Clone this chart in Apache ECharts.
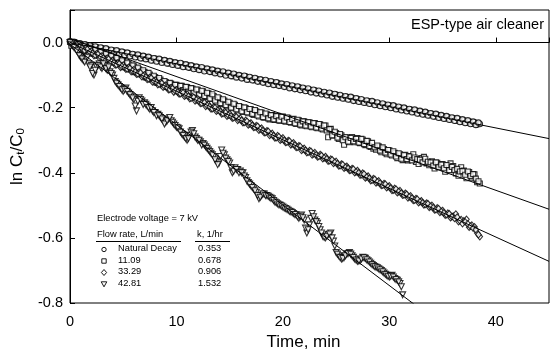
<!DOCTYPE html>
<html>
<head>
<meta charset="utf-8">
<script src="https://cdn.jsdelivr.net/npm/echarts@6/dist/echarts.min.js"></script>
<style>html,body{margin:0;padding:0;background:#fff}#c{width:551px;height:352px}</style>
</head>
<body>
<div id="c"></div>
<script>
// Sampling times, min (readings on the quarter minute)
const times = [0,0.25,0.5,0.75,1,1.25,1.5,1.75,2,2.25,2.5,2.75,3,3.25,3.5,3.75,4,4.25,4.5,4.75,5,5.25,5.5,5.75,6,6.25,6.5,6.75,7,7.25,7.5,7.75,8,8.25,8.5,8.75,9,9.25,9.5,9.75,10,10.25,10.5,10.75,11,11.25,11.5,11.75,12,12.25,12.5,12.75,13,13.25,13.5,13.75,14,14.25,14.5,14.75,15,15.25,15.5,15.75,16,16.25,16.5,16.75,17,17.25,17.5,17.75,18,18.25,18.5,18.75,19,19.25,19.5,19.75,20,20.25,20.5,20.75,21,21.25,21.5,21.75,22,22.25,22.5,22.75,23,23.25,23.5,23.75,24,24.25,24.5,24.75,25,25.25,25.5,25.75,26,26.25,26.5,26.75,27,27.25,27.5,27.75,28,28.25,28.5,28.75,29,29.25,29.5,29.75,30,30.25,30.5,30.75,31,31.25,31.5,31.75,32,32.25,32.5,32.75,33,33.25,33.5,33.75,34,34.25,34.5,34.75,35,35.25,35.5,35.75,36,36.25,36.5,36.75,37,37.25,37.5,37.75,38,38.25,38.5];
// Intermediate readings, min
const timesB = [0.125,0.375,0.625,0.875,1.125,1.375,1.625,1.875,2.125,2.375,2.625,2.875,3.125,3.375,3.625,3.875,4.125,4.375,4.625,4.875,5.125,5.375,5.625,5.875,6.125,6.375,6.625,6.875,7.125,7.375,7.625,7.875,8.125,8.375,8.625,8.875,9.125,9.375,9.625,9.875,10.125,10.375,10.625,10.875,11.125,11.375,11.625,11.875,12.125,12.375,12.625,12.875,13.125,13.375,13.625,13.875,14.125,14.375,14.625,14.875,15.125,15.375,15.625,15.875,16.125,16.375,16.625,16.875,17.125,17.375,17.625,17.875,18.125,18.375,18.625,18.875,19.125,19.375,19.625,19.875,20.125,20.375,20.625,20.875,21.125,21.375,21.625,21.875,22.125,22.375,22.625,22.875,23.125,23.375,23.625,23.875,24.125,24.375,24.625,24.875,25.125,25.375,25.625,25.875,26.125,26.375,26.625,26.875,27.125,27.375,27.625,27.875,28.125,28.375,28.625,28.875,29.125,29.375,29.625,29.875,30.125,30.375,30.625,30.875,31.125,31.375,31.625,31.875,32.125,32.375,32.625,32.875,33.125,33.375,33.625,33.875,34.125,34.375,34.625,34.875,35.125,35.375,35.625,35.875,36.125,36.375,36.625,36.875,37.125,37.375,37.625,37.875,38.125,38.375];

// ln Ct/C0 — Natural Decay (circles)
const natural = [0.004,-0.002,0.001,-0.007,-0.004,-0.011,-0.007,-0.014,-0.011,-0.018,-0.014,-0.021,-0.017,-0.024,-0.021,-0.028,-0.024,-0.031,-0.027,-0.035,-0.030,-0.038,-0.033,-0.041,-0.037,-0.044,-0.040,-0.048,-0.043,-0.050,-0.047,-0.054,-0.049,-0.057,-0.053,-0.060,-0.056,-0.064,-0.059,-0.067,-0.063,-0.070,-0.065,-0.074,-0.069,-0.077,-0.072,-0.080,-0.076,-0.083,-0.079,-0.086,-0.082,-0.090,-0.085,-0.092,-0.089,-0.096,-0.092,-0.099,-0.095,-0.103,-0.098,-0.106,-0.102,-0.109,-0.104,-0.113,-0.108,-0.116,-0.111,-0.119,-0.115,-0.122,-0.118,-0.125,-0.121,-0.129,-0.124,-0.132,-0.128,-0.135,-0.131,-0.138,-0.134,-0.142,-0.137,-0.145,-0.141,-0.148,-0.144,-0.152,-0.147,-0.155,-0.151,-0.158,-0.154,-0.161,-0.157,-0.165,-0.160,-0.168,-0.164,-0.171,-0.167,-0.174,-0.170,-0.178,-0.173,-0.181,-0.177,-0.184,-0.180,-0.187,-0.183,-0.191,-0.187,-0.194,-0.190,-0.197,-0.193,-0.200,-0.196,-0.204,-0.200,-0.207,-0.203,-0.210,-0.206,-0.213,-0.209,-0.217,-0.213,-0.220,-0.216,-0.223,-0.219,-0.227,-0.222,-0.230,-0.226,-0.233,-0.229,-0.236,-0.232,-0.240,-0.235,-0.243,-0.239,-0.246,-0.242,-0.249,-0.245,-0.252,-0.250];
const naturalB = [-0.004,0.002,-0.008,-0.002,-0.012,-0.005,-0.015,-0.009,-0.018,-0.012,-0.022,-0.015,-0.025,-0.018,-0.029,-0.022,-0.032,-0.024,-0.035,-0.028,-0.038,-0.031,-0.042,-0.035,-0.045,-0.037,-0.048,-0.041,-0.051,-0.044,-0.055,-0.048,-0.058,-0.050,-0.062,-0.054,-0.064,-0.057,-0.068,-0.061,-0.071,-0.063,-0.075,-0.067,-0.077,-0.070,-0.081,-0.074,-0.084,-0.076,-0.088,-0.080,-0.090,-0.083,-0.094,-0.087,-0.097,-0.089,-0.101,-0.093,-0.103,-0.096,-0.107,-0.100,-0.110,-0.102,-0.114,-0.106,-0.116,-0.109,-0.120,-0.113,-0.123,-0.115,-0.127,-0.119,-0.130,-0.122,-0.133,-0.126,-0.136,-0.128,-0.140,-0.132,-0.143,-0.135,-0.146,-0.139,-0.149,-0.141,-0.153,-0.145,-0.156,-0.148,-0.159,-0.152,-0.162,-0.154,-0.166,-0.158,-0.169,-0.161,-0.172,-0.165,-0.175,-0.167,-0.179,-0.171,-0.182,-0.174,-0.185,-0.178,-0.188,-0.180,-0.192,-0.184,-0.195,-0.187,-0.198,-0.191,-0.201,-0.193,-0.205,-0.197,-0.208,-0.200,-0.211,-0.204,-0.214,-0.206,-0.218,-0.210,-0.221,-0.213,-0.224,-0.217,-0.227,-0.219,-0.231,-0.223,-0.234,-0.226,-0.237,-0.230,-0.240,-0.232,-0.244,-0.236,-0.247,-0.239,-0.250,-0.243,-0.253,-0.246];

// 11.09 L/min (squares)
const flow11 = [0.002,-0.008,-0.002,-0.014,-0.008,-0.021,-0.014,-0.028,-0.020,-0.033,-0.027,-0.041,-0.031,-0.045,-0.039,-0.053,-0.044,-0.060,-0.052,-0.068,-0.059,-0.075,-0.066,-0.083,-0.073,-0.090,-0.082,-0.099,-0.090,-0.107,-0.098,-0.115,-0.106,-0.123,-0.114,-0.131,-0.121,-0.137,-0.126,-0.142,-0.130,-0.145,-0.133,-0.149,-0.137,-0.153,-0.141,-0.157,-0.145,-0.161,-0.150,-0.167,-0.156,-0.173,-0.164,-0.182,-0.171,-0.189,-0.178,-0.196,-0.185,-0.202,-0.191,-0.208,-0.197,-0.213,-0.201,-0.217,-0.205,-0.222,-0.211,-0.227,-0.215,-0.231,-0.220,-0.236,-0.223,-0.238,-0.225,-0.240,-0.227,-0.243,-0.231,-0.246,-0.234,-0.250,-0.239,-0.255,-0.242,-0.257,-0.245,-0.260,-0.247,-0.263,-0.251,-0.267,-0.255,-0.291,-0.265,-0.285,-0.278,-0.296,-0.285,-0.314,-0.291,-0.306,-0.290,-0.306,-0.293,-0.309,-0.298,-0.315,-0.303,-0.321,-0.326,-0.329,-0.319,-0.337,-0.327,-0.343,-0.331,-0.347,-0.339,-0.355,-0.343,-0.361,-0.345,-0.362,-0.349,-0.343,-0.367,-0.373,-0.355,-0.351,-0.371,-0.377,-0.365,-0.387,-0.369,-0.379,-0.373,-0.397,-0.378,-0.371,-0.379,-0.402,-0.409,-0.383,-0.393,-0.417,-0.398,-0.415,-0.405,-0.429,-0.433];
const flow11B = [-0.010,0.000,-0.012,-0.004,-0.022,-0.010,-0.025,-0.016,-0.034,-0.022,-0.037,-0.028,-0.046,-0.034,-0.050,-0.040,-0.060,-0.047,-0.064,-0.055,-0.076,-0.062,-0.079,-0.070,-0.091,-0.077,-0.095,-0.085,-0.107,-0.093,-0.112,-0.102,-0.123,-0.109,-0.127,-0.118,-0.136,-0.124,-0.138,-0.130,-0.145,-0.133,-0.146,-0.136,-0.151,-0.140,-0.154,-0.144,-0.160,-0.148,-0.164,-0.154,-0.172,-0.159,-0.178,-0.168,-0.186,-0.174,-0.192,-0.182,-0.200,-0.188,-0.205,-0.195,-0.211,-0.199,-0.214,-0.204,-0.219,-0.207,-0.224,-0.214,-0.229,-0.218,-0.233,-0.223,-0.236,-0.226,-0.239,-0.228,-0.240,-0.230,-0.244,-0.235,-0.248,-0.237,-0.252,-0.242,-0.255,-0.245,-0.258,-0.248,-0.261,-0.250,-0.264,-0.255,-0.270,-0.266,-0.285,-0.274,-0.292,-0.281,-0.300,-0.291,-0.304,-0.293,-0.303,-0.296,-0.307,-0.296,-0.312,-0.302,-0.318,-0.308,-0.322,-0.316,-0.332,-0.322,-0.338,-0.330,-0.344,-0.334,-0.350,-0.340,-0.357,-0.346,-0.358,-0.350,-0.362,-0.353,-0.358,-0.360,-0.368,-0.357,-0.366,-0.368,-0.378,-0.368,-0.383,-0.375,-0.386,-0.376,-0.392,-0.382,-0.392,-0.388,-0.396,-0.395,-0.406,-0.396,-0.410,-0.404,-0.418,-0.426];

// 33.29 L/min (diamonds)
const flow33 = [0.003,-0.007,-0.004,-0.016,-0.011,-0.025,-0.018,-0.032,-0.026,-0.040,-0.034,-0.047,-0.041,-0.055,-0.048,-0.062,-0.055,-0.069,-0.062,-0.076,-0.069,-0.082,-0.076,-0.089,-0.083,-0.097,-0.091,-0.105,-0.099,-0.113,-0.107,-0.121,-0.115,-0.129,-0.123,-0.137,-0.131,-0.145,-0.138,-0.152,-0.145,-0.158,-0.152,-0.165,-0.158,-0.172,-0.166,-0.179,-0.173,-0.187,-0.182,-0.196,-0.190,-0.204,-0.198,-0.211,-0.205,-0.219,-0.212,-0.226,-0.219,-0.232,-0.226,-0.239,-0.232,-0.246,-0.239,-0.253,-0.247,-0.261,-0.255,-0.269,-0.263,-0.277,-0.271,-0.285,-0.279,-0.293,-0.286,-0.300,-0.293,-0.307,-0.301,-0.314,-0.308,-0.322,-0.317,-0.331,-0.325,-0.338,-0.332,-0.345,-0.338,-0.351,-0.344,-0.357,-0.350,-0.364,-0.358,-0.371,-0.365,-0.379,-0.373,-0.386,-0.380,-0.393,-0.387,-0.400,-0.393,-0.407,-0.401,-0.416,-0.410,-0.424,-0.418,-0.431,-0.425,-0.439,-0.433,-0.446,-0.440,-0.454,-0.448,-0.461,-0.455,-0.469,-0.463,-0.477,-0.471,-0.485,-0.479,-0.492,-0.486,-0.499,-0.493,-0.506,-0.500,-0.514,-0.508,-0.522,-0.516,-0.530,-0.524,-0.538,-0.533,-0.527,-0.550,-0.544,-0.548,-0.543,-0.567,-0.561,-0.566,-0.585,-0.596];
const flow33B = [-0.002,-0.010,-0.006,-0.014,-0.018,-0.024,-0.021,-0.029,-0.033,-0.039,-0.036,-0.044,-0.048,-0.054,-0.051,-0.059,-0.062,-0.068,-0.065,-0.073,-0.076,-0.081,-0.079,-0.087,-0.090,-0.096,-0.093,-0.102,-0.106,-0.112,-0.109,-0.118,-0.122,-0.128,-0.125,-0.134,-0.138,-0.144,-0.141,-0.148,-0.152,-0.157,-0.154,-0.162,-0.165,-0.171,-0.168,-0.176,-0.180,-0.186,-0.184,-0.193,-0.197,-0.203,-0.200,-0.208,-0.212,-0.218,-0.215,-0.223,-0.226,-0.231,-0.228,-0.236,-0.239,-0.245,-0.242,-0.250,-0.254,-0.260,-0.257,-0.266,-0.270,-0.276,-0.273,-0.282,-0.286,-0.292,-0.289,-0.297,-0.300,-0.306,-0.303,-0.311,-0.315,-0.321,-0.319,-0.328,-0.331,-0.337,-0.334,-0.342,-0.345,-0.350,-0.347,-0.354,-0.357,-0.363,-0.360,-0.368,-0.372,-0.378,-0.375,-0.383,-0.386,-0.392,-0.389,-0.397,-0.400,-0.406,-0.404,-0.413,-0.417,-0.423,-0.420,-0.428,-0.432,-0.438,-0.435,-0.443,-0.447,-0.453,-0.450,-0.458,-0.462,-0.468,-0.466,-0.474,-0.478,-0.484,-0.481,-0.489,-0.492,-0.497,-0.495,-0.503,-0.507,-0.513,-0.510,-0.519,-0.523,-0.529,-0.526,-0.535,-0.540,-0.536,-0.547,-0.556,-0.551,-0.557,-0.564,-0.570,-0.575,-0.590];

// 42.81 L/min (inverted triangles)
const flow42 = [0.000,-0.010,-0.020,-0.030,-0.045,-0.055,-0.050,-0.065,-0.070,-0.100,-0.075,-0.065,-0.080,-0.070,-0.085,-0.090,-0.100,-0.120,-0.130,-0.140,-0.150,-0.140,-0.155,-0.165,-0.175,-0.210,-0.170,-0.180,-0.185,-0.195,-0.205,-0.210,-0.215,-0.220,-0.230,-0.240,-0.245,-0.235,-0.240,-0.250,-0.260,-0.265,-0.280,-0.290,-0.300,-0.285,-0.270,-0.290,-0.300,-0.305,-0.310,-0.320,-0.330,-0.340,-0.350,-0.365,-0.370,-0.330,-0.345,-0.360,-0.370,-0.400,-0.385,-0.390,-0.395,-0.400,-0.415,-0.430,-0.440,-0.450,-0.460,-0.480,-0.470,-0.465,-0.470,-0.475,-0.480,-0.490,-0.495,-0.500,-0.505,-0.510,-0.515,-0.520,-0.525,-0.530,-0.540,-0.530,-0.545,-0.585,-0.560,-0.525,-0.545,-0.555,-0.575,-0.595,-0.600,-0.590,-0.585,-0.610,-0.645,-0.655,-0.665,-0.660,-0.650,-0.645,-0.655,-0.665,-0.672,-0.670,-0.660,-0.663,-0.670,-0.678,-0.685,-0.690,-0.695,-0.700,-0.708,-0.715,-0.720,-0.715,-0.725,-0.730,-0.740,-0.775];
const flow42B = [-0.005,-0.015,-0.025,-0.040,-0.050,-0.060,-0.045,-0.075,-0.095,-0.085,-0.070,-0.075,-0.065,-0.080,-0.075,-0.095,-0.110,-0.125,-0.135,-0.145,-0.145,-0.150,-0.160,-0.170,-0.195,-0.180,-0.175,-0.190,-0.190,-0.200,-0.200,-0.215,-0.225,-0.225,-0.235,-0.250,-0.240,-0.230,-0.245,-0.255,-0.262,-0.275,-0.285,-0.295,-0.295,-0.275,-0.280,-0.295,-0.300,-0.315,-0.315,-0.325,-0.335,-0.345,-0.360,-0.375,-0.350,-0.340,-0.355,-0.365,-0.385,-0.395,-0.390,-0.400,-0.400,-0.410,-0.425,-0.435,-0.445,-0.455,-0.470,-0.475,-0.465,-0.470,-0.472,-0.478,-0.485,-0.492,-0.498,-0.502,-0.508,-0.512,-0.518,-0.522,-0.528,-0.535,-0.535,-0.538,-0.570,-0.575,-0.540,-0.535,-0.550,-0.565,-0.585,-0.598,-0.595,-0.588,-0.600,-0.625,-0.650,-0.660,-0.663,-0.655,-0.648,-0.650,-0.660,-0.668,-0.671,-0.665,-0.661,-0.667,-0.674,-0.682,-0.688,-0.692,-0.698,-0.704,-0.712,-0.718,-0.718,-0.720,-0.728,-0.735,-0.750];

// Fitted first-order decay lines: value at t=0 and t=45 min
const fitTimes = [0, 45];
const fitNatural = [0.000, -0.295];
const fit11 = [0.012, -0.512];
const fit33 = [0.000, -0.672];
const fit42 = [-0.005, -1.117];

// Legend table
const seriesNames = ['Natural Decay', '11.09', '33.29', '42.81'];
const kValues = ['0.353', '0.678', '0.906', '1.532'];
const xTicks = [0, 10, 20, 30, 40];

const FONT = 'Liberation Sans, Arial, sans-serif';

function pairs(tt, vals) { return vals.map((v, i) => [tt[i], v]); }
function both(a, b) { return pairs(times, a).concat(pairs(timesB, b)); }
function fitPairs(f) { return fitTimes.map((t, i) => [t, f[i]]); }

const mk = { color: '#ffffff', borderColor: '#000000', borderWidth: 1.1 };

const series = [
  { name: seriesNames[0], type: 'scatter', symbol: 'circle', symbolSize: 5.5, itemStyle: mk, data: both(natural, naturalB) },
  { name: seriesNames[1], type: 'scatter', symbol: 'rect', symbolSize: 5, itemStyle: mk, data: both(flow11, flow11B) },
  { name: seriesNames[2], type: 'scatter', symbol: 'diamond', symbolSize: [5.5, 6.5], itemStyle: mk, data: both(flow33, flow33B) },
  { name: seriesNames[3], type: 'scatter', symbol: 'triangle', symbolRotate: 180, symbolSize: 6, itemStyle: mk, data: both(flow42, flow42B) }
];
[fitNatural, fit11, fit33, fit42].forEach(f => {
  series.push({ type: 'line', data: fitPairs(f), symbol: 'none', clip: true, silent: true,
    lineStyle: { color: '#000', width: 1 }, z: 5 });
});

// legend table drawn as graphic
const LF = '9.3px ' + FONT;
const g = [];
g.push({ type: 'text', left: 97, top: 214, style: { text: 'Electrode voltage = 7 kV', font: LF, fill: '#000' } });
g.push({ type: 'text', left: 97, top: 230, style: { text: 'Flow rate, L/min', font: LF, fill: '#000' } });
g.push({ type: 'text', left: 197, top: 230, style: { text: 'k, 1/hr', font: LF, fill: '#000' } });
g.push({ type: 'line', shape: { x1: 96, y1: 241.5, x2: 181, y2: 241.5 }, style: { stroke: '#000', lineWidth: 1 } });
g.push({ type: 'line', shape: { x1: 195, y1: 241.5, x2: 230, y2: 241.5 }, style: { stroke: '#000', lineWidth: 1 } });
const rowY = [249.5, 261, 272.5, 284];
const symStyle = { fill: '#fff', stroke: '#000', lineWidth: 0.9 };
g.push({ type: 'circle', shape: { cx: 104, cy: rowY[0], r: 2.2 }, style: symStyle });
g.push({ type: 'rect', shape: { x: 101.8, y: rowY[1] - 2.2, width: 4.4, height: 4.4 }, style: symStyle });
g.push({ type: 'polygon', shape: { points: [[104, rowY[2] - 3], [106.6, rowY[2]], [104, rowY[2] + 3], [101.4, rowY[2]]] }, style: symStyle });
g.push({ type: 'polygon', shape: { points: [[101.2, rowY[3] - 2.2], [106.8, rowY[3] - 2.2], [104, rowY[3] + 2.8]] }, style: symStyle });
seriesNames.forEach((n, i) => {
  g.push({ type: 'text', left: 118, top: rowY[i] - 5.5, style: { text: n, font: LF, fill: '#000' } });
  g.push({ type: 'text', left: 198, top: rowY[i] - 5.5, style: { text: kValues[i], font: LF, fill: '#000' } });
});

const option = {
  animation: false,
  backgroundColor: '#fff',
  textStyle: { fontFamily: FONT },
  title: { text: 'ESP-type air cleaner', right: 2, top: 12,
    textStyle: { fontSize: 14.5, fontWeight: 'normal', color: '#000', fontFamily: FONT } },
  grid: { left: 70, right: 2, top: 10, bottom: 49, containLabel: false, outerBoundsMode: 'none',
    show: true, borderColor: '#000', borderWidth: 1, backgroundColor: 'transparent' },
  xAxis: {
    type: 'value', min: 0, max: 45, interval: 10,
    axisLine: { lineStyle: { color: '#000', width: 1 } },
    axisTick: { inside: true, length: 5, lineStyle: { color: '#000' } },
    axisLabel: { color: '#000', fontSize: 14.5, margin: 11, fontFamily: FONT,
      formatter: v => xTicks.indexOf(v) >= 0 ? String(v) : '' },
    splitLine: { show: false },
    name: 'Time, min', nameLocation: 'middle', nameGap: 27,
    nameTextStyle: { color: '#000', fontSize: 17, fontFamily: FONT, padding: [0, 12, 0, 0] }
  },
  yAxis: {
    type: 'value', min: -0.8, max: 0.1, interval: 0.2,
    axisLine: { show: true, lineStyle: { color: '#000', width: 1 } },
    axisTick: { show: true, inside: true, length: 5, lineStyle: { color: '#000' } },
    axisLabel: { color: '#000', fontSize: 14.5, margin: 7, fontFamily: FONT,
      formatter: v => Math.abs(v - 0.1) < 1e-6 ? '' : v.toFixed(1) },
    splitLine: { show: false },
    name: '{a|ln C}{b|t}{a|/C}{b|0}', nameLocation: 'middle', nameGap: 40,
    nameTextStyle: { color: '#000', fontFamily: FONT,
      rich: { a: { fontSize: 17, color: '#000', fontFamily: FONT },
              b: { fontSize: 11.5, color: '#000', fontFamily: FONT, verticalAlign: 'bottom', padding: [7, 0, 0, 0] } } }
  },
  graphic: g,
  series: series
};

const chart = echarts.init(document.getElementById('c'), null, { renderer: 'canvas' });
chart.setOption(option);
</script>
</body>
</html>
